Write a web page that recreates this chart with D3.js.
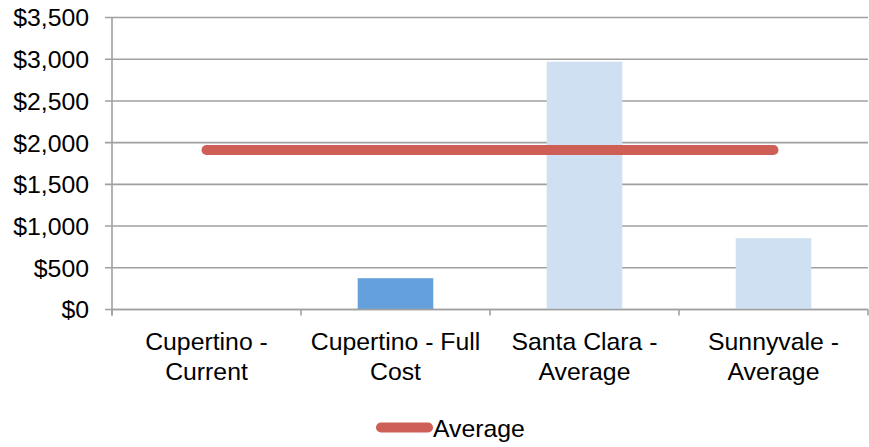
<!DOCTYPE html>
<html><head><meta charset="utf-8">
<script src="https://cdn.jsdelivr.net/npm/d3@7"></script>
<style>body{margin:0;background:#fff}svg{display:block}text{font-family:"Liberation Sans",Arial,sans-serif;fill:#000}</style>
</head><body><svg id="c" width="869" height="447"></svg>
<script>
const categories = [["Cupertino -","Current"],["Cupertino - Full","Cost"],["Santa Clara -","Average"],["Sunnyvale -","Average"]];
const barValues = [0, 375, 2970, 855];
const barColors = ["#64A0DC","#64A0DC","#CFE0F2","#CFE0F2"];
const averageValues = [1912, 1912, 1912, 1912];
const yTicks = [0,500,1000,1500,2000,2500,3000,3500];
const seriesName = "Average";

const svg = d3.select("#c");
const m = {l:112, r:868, t:17.5, b:309.5};
const keys = categories.map((c,i)=>i);
const x = d3.scaleBand().domain(keys).range([m.l,m.r]).paddingInner(0).paddingOuter(0);
const y = d3.scaleLinear().domain([0,3500]).range([m.b,m.t]);
const fmt = v => "$" + d3.format(",")(v);
const fs = "24.8px";

// gridlines
svg.append("g").selectAll("line").data(yTicks).join("line")
  .attr("x1",105).attr("x2",m.r).attr("y1",d=>y(d)).attr("y2",d=>y(d))
  .attr("stroke","#A0A0A0").attr("stroke-width",1.6);
// y labels
svg.append("g").selectAll("text").data(yTicks).join("text")
  .attr("x",89).attr("y",d=>y(d)).attr("dy","0.36em").attr("text-anchor","end")
  .attr("font-size",fs).text(fmt);

// bars
svg.append("g").selectAll("rect").data(barValues).join("rect")
  .attr("x",(d,i)=>x(i)+x.bandwidth()*0.3).attr("width",x.bandwidth()*0.4)
  .attr("y",d=>y(d)).attr("height",d=>y(0)-y(d))
  .attr("fill",(d,i)=>barColors[i]);

// axes lines
svg.append("line").attr("x1",m.l).attr("x2",m.l).attr("y1",m.t).attr("y2",m.b+6).attr("stroke","#A0A0A0").attr("stroke-width",1.6);
svg.append("line").attr("x1",m.l).attr("x2",m.r).attr("y1",m.b).attr("y2",m.b).attr("stroke","#A0A0A0").attr("stroke-width",1.6);
svg.append("g").selectAll("line").data(keys.concat([keys.length])).join("line")
  .attr("x1",d=>d<keys.length?x(d):m.r).attr("x2",d=>d<keys.length?x(d):m.r)
  .attr("y1",m.b).attr("y2",m.b+6).attr("stroke","#A0A0A0").attr("stroke-width",1.6);

// category labels
const cl = svg.append("g").selectAll("text").data(categories).join("text")
  .attr("text-anchor","middle").attr("font-size",fs);
cl.append("tspan").attr("x",(d,i)=>x(i)+x.bandwidth()/2).attr("y",350).text(d=>d[0]);
cl.append("tspan").attr("x",(d,i)=>x(i)+x.bandwidth()/2).attr("y",380).text(d=>d[1]);

// average line
const line = d3.line().x((d,i)=>x(i)+x.bandwidth()/2).y(d=>y(d));
svg.append("path").datum(averageValues).attr("d",line).attr("fill","none")
  .attr("stroke","#CD5F57").attr("stroke-width",10).attr("stroke-linecap","round");

// legend
svg.append("line").attr("x1",381).attr("x2",428).attr("y1",427.5).attr("y2",427.5)
  .attr("stroke","#CD5F57").attr("stroke-width",10).attr("stroke-linecap","round");
svg.append("text").attr("x",433).attr("y",437).attr("font-size",fs).text(seriesName);
</script></body></html>
